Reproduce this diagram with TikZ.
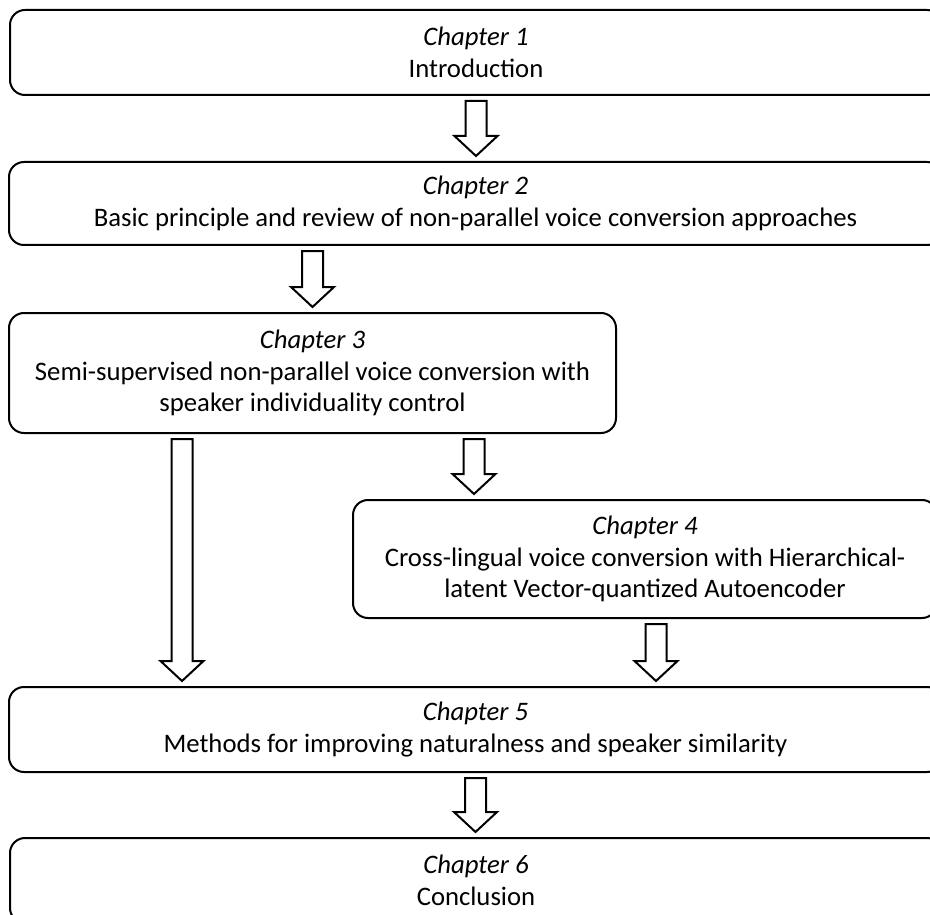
\documentclass[tikz,border=0pt]{standalone}
\usepackage{fontspec}
\setmainfont{Carlito}
\usetikzlibrary{calc}

\tikzset{
  chapbox/.style={draw, line width=2pt, rounded corners=15pt, inner sep=0pt,
    align=center, font=\fontsize{26.7}{31.5}\selectfont},
  % outlined block arrow drawn downward from the start point to the target level
  blockarrow/.style={draw, line width=2pt, fill=white, to path={
    let \p1=(\tikztostart), \p2=(\tikztotarget) in
    (\x1-10.5pt,\y1-5pt) -- (\x1+10.5pt,\y1-5pt) -- (\x1+10.5pt,\y2+25pt)
    -- (\x1+21.5pt,\y2+25pt) -- (\x1,\y2+5pt) -- (\x1-21.5pt,\y2+25pt)
    -- (\x1-10.5pt,\y2+25pt) -- cycle}}
}

\begin{document}
\begin{tikzpicture}[x=1pt, y=-1pt]
  \useasboundingbox (0,0) rectangle (930,915);
  \clip (0,0) rectangle (930,915);

  \node[chapbox, minimum width=932pt, minimum height=85pt] (b1) at (476,52.5)
    {\textit{Chapter 1}\\Introduction};
  \node[chapbox, minimum width=933pt, minimum height=83pt] (b2) at (475.5,203.5)
    {\textit{Chapter 2}\\Basic principle and review of non-parallel voice conversion approaches};
  \node[chapbox, minimum width=607pt, minimum height=120pt] (b3) at (312.5,373)
    {\textit{Chapter 3}\\Semi-supervised non-parallel voice conversion with\\speaker individuality control};
  \node[chapbox, minimum width=584pt, minimum height=118pt] (b4) at (645,559)
    {\textit{Chapter 4}\\Cross-lingual voice conversion with Hierarchical-\\latent Vector-quantized Autoencoder};
  \node[chapbox, minimum width=933pt, minimum height=85pt] (b5) at (475.5,729.5)
    {\textit{Chapter 5}\\Methods for improving naturalness and speaker similarity};
  \node[chapbox, minimum width=932pt, minimum height=85pt] (b6) at (476,880.5)
    {\textit{Chapter 6}\\Conclusion};

  \path[blockarrow] (b1.south) to (b2.north);
  \path[blockarrow] (b3.north |- b2.south) to (b3.north);
  \path[blockarrow] ([xshift=-130.5pt]b3.south) to (b5.north);
  \path[blockarrow] ([xshift=161.5pt]b3.south) to (b4.north);
  \path[blockarrow] ([xshift=11pt]b4.south) to (b5.north);
  \path[blockarrow] (b5.south) to (b6.north);
\end{tikzpicture}
\end{document}
